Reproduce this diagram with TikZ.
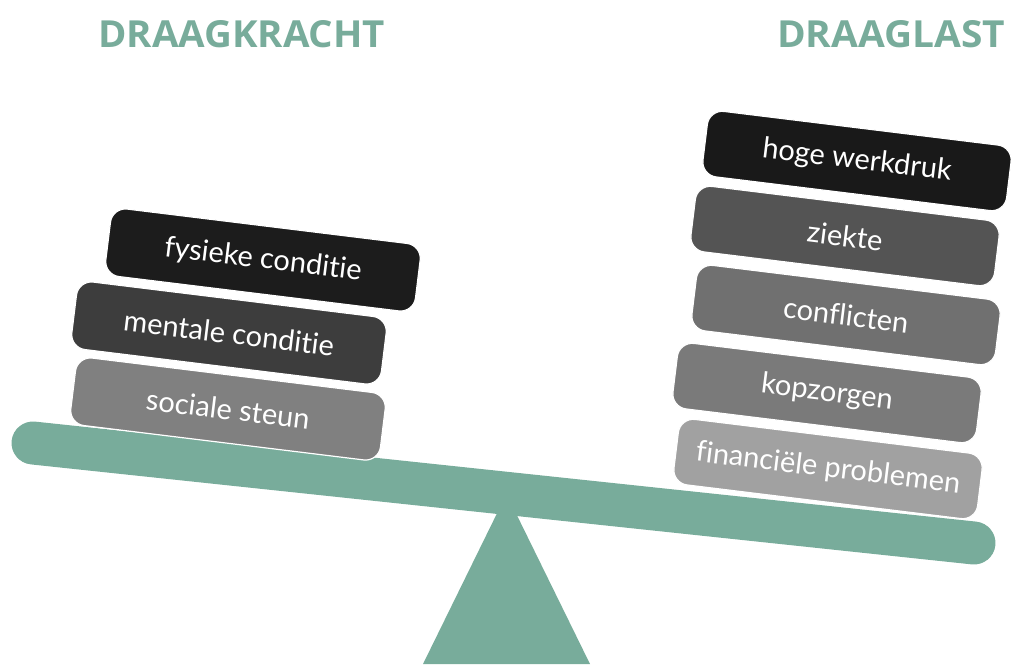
\documentclass[tikz,border=0pt]{standalone}
\usepackage{fontspec}
\setmainfont{Lato}[Ligatures=NoCommon]
\newfontfamily\headfont{Open Sans}
\definecolor{tealc}{HTML}{78AC9B}
\begin{document}
\begin{tikzpicture}[x=1pt,y=-1pt,
  blk/.style={rectangle, rounded corners=15pt, minimum width=312pt, minimum height=68pt,
    inner sep=0pt, rotate=-7, text=white, font=\fontsize{29}{29}\selectfont,
    draw=white, line width=1.2pt},
  rblk/.style={blk, minimum width=306pt, minimum height=66pt},
  head/.style={inner sep=0pt, anchor=base west, text=tealc}]
\useasboundingbox (0,0) rectangle (1011,664);
% headers
\node[head] (h1) at (98,47) {\resizebox{287pt}{27pt}{\headfont\bfseries DRAAGKRACHT}};
\node[head] (h2) at (777,47) {\resizebox{228pt}{27pt}{\headfont\bfseries DRAAGLAST}};
% fulcrum
\fill[tealc] (506.5,494) -- (423,664) -- (590,664) -- cycle;
% beam
\coordinate (bl) at (33,443);
\coordinate (br) at (974,543);
\draw[tealc, line width=43pt, line cap=round] (bl) -- (br);
% left stack
\node[blk, fill=black!89] (f1) at (263,260) {fysieke conditie};
\node[blk, fill=black!76] (f2) at (229,333) {mentale conditie};
\node[blk, fill=black!50] (f3) at (228,409) {sociale steun};
% right stack
\node[rblk, fill=black!90] (r1) at (857,161) {hoge werkdruk};
\node[rblk, fill=black!67] (r2) at (845,236) {ziekte};
\node[rblk, fill=black!56] (r3) at (846,315) {conflicten};
\node[rblk, fill=black!52] (r4) at (827,393) {kopzorgen};
\node[rblk, fill=black!37] (r5) at (828,469) {financiële problemen};
\end{tikzpicture}
\end{document}
